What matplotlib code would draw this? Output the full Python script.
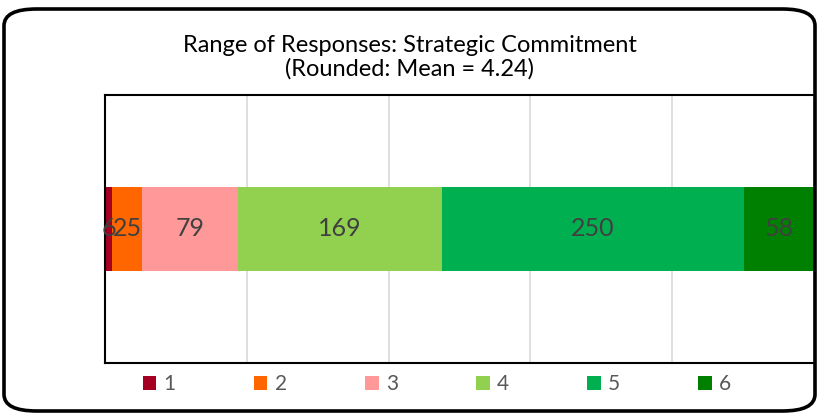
import matplotlib
matplotlib.use("Agg")
import matplotlib.pyplot as plt
import numpy as np
from matplotlib.patches import FancyBboxPatch, Patch

plt.rcParams["font.family"] = ["Lato", "DejaVu Sans"]

# Response counts per rating
categories = ["1", "2", "3", "4", "5", "6"]
counts = [6, 25, 79, 169, 250, 58]
colors = ["#a50021", "#ff6600", "#ff9999", "#92d050", "#00b050", "#008000"]

TITLE = "Range of Responses: Strategic Commitment\n(Rounded: Mean = 4.24)"
LABEL_INK = "#404040"
GRIDLINE = "#d9d9d9"

W, H = 819, 416
fig = plt.figure(figsize=(W / 100, H / 100), dpi=100)

# rounded outer border
fig.patches.append(FancyBboxPatch(
    (4 / W, 5 / H), 811 / W, 402 / H,
    boxstyle="round,pad=0,rounding_size=0.04",
    transform=fig.transFigure, facecolor="none", edgecolor="black",
    linewidth=2.6, zorder=5,
))

ax = fig.add_axes([105 / W, (H - 363) / H, (814 - 105) / W, (363 - 95) / H])
ax.set_facecolor("none")

total = sum(counts)
lefts = np.concatenate([[0], np.cumsum(counts)[:-1]])
ax.barh([0] * len(counts), counts, left=lefts, height=0.31, color=colors, zorder=2)
for left, val in zip(lefts, counts):
    ax.text(left + val / 2, 0, str(val), ha="center", va="center",
            fontsize=18, color=LABEL_INK, zorder=3)

ax.set_xlim(0, total)
ax.set_ylim(-0.5, 0.5)
ax.set_xticks(np.linspace(0, total, 6))
ax.set_yticks([])
ax.tick_params(axis="x", length=0, labelbottom=False)
ax.grid(axis="x", color=GRIDLINE, linewidth=1.2, zorder=1)
for side in ["left", "top", "bottom"]:
    ax.spines[side].set_color("black")
    ax.spines[side].set_linewidth(1.5)
ax.spines["right"].set_visible(False)

fig.text(0.5, (H - 57) / H, TITLE, ha="center", va="center",
         fontsize=17, color="black", linespacing=1.1)

handles = [Patch(facecolor=c, edgecolor="none", label=l) for c, l in zip(colors, categories)]
fig.legend(handles=handles, loc="center", bbox_to_anchor=(437 / W, (H - 384) / H),
           ncol=6, frameon=False, fontsize=15, handlelength=0.65, handleheight=0.65,
           handletextpad=0.35, columnspacing=3.75, labelcolor="#595959")

fig.savefig("out.png", dpi=100)
